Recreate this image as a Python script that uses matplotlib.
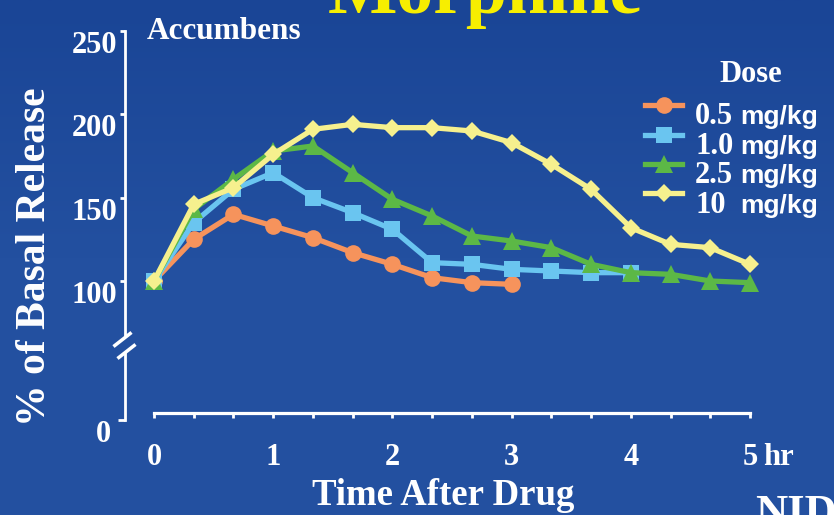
import numpy as np
import matplotlib.pyplot as plt
from matplotlib.lines import Line2D
from matplotlib.colors import LinearSegmentedColormap

# ------------------------------------------------------------------ data
hours = [0, 1/3, 2/3, 1, 4/3, 5/3, 2, 7/3, 8/3, 3, 10/3, 11/3, 4, 13/3, 14/3, 5]

dose_05 = [100, 125, 140, 133, 126, 117, 110, 102, 99, 98]
dose_10 = [100, 135, 155, 165, 150, 141, 131, 111, 110, 107, 106, 105, 105]
dose_25 = [100, 143, 161, 178, 181, 165, 149, 139, 127, 124, 120, 110, 105, 104, 100, 99]
dose_100 = [100, 146, 156, 176, 191, 194, 192, 192, 190, 183, 170, 155, 132, 122, 120, 110]

dose_names = ['0.5', '1.0', '2.5', '10']
colors = ['#f6935c', '#6ac5f0', '#5cb846', '#f6f08e']
markers = ['o', 's', '^', 'D']
msizes = [12, 12, 13, 9.5]

yticks = [100, 150, 200, 250]
xticks = [0, 1, 2, 3, 4, 5]

# ------------------------------------------------------------------ figure
W, H = 834, 515
fig = plt.figure(figsize=(W / 100, H / 100), dpi=100)

def fx(px):
    return px / W

def fy(py):
    return 1 - py / H

serif = 'Liberation Serif'
sans = 'Liberation Sans'

# blue slide background
bg = fig.add_axes([0, 0, 1, 1], zorder=-10)
grad = np.linspace(0, 1, 256).reshape(-1, 1)
bg.imshow(grad, aspect='auto', extent=[0, 1, 0, 1],
          cmap=LinearSegmentedColormap.from_list('bg', ['#1a4596', '#2350a0', '#2451a1']))
bg.axis('off')

# ------------------------------------------------------------------ main axes
px_per_hr = (750 - 154) / 5
px_per_unit = (281 - 31) / 150
ax = fig.add_axes([fx(125), fy(413), fx(790 - 125), (413 - 31) / H])
ax.patch.set_alpha(0)
ax.set_xlim((125 - 154) / px_per_hr, (790 - 154) / px_per_hr)
ax.set_ylim(250 - (413 - 31) / px_per_unit, 250)

series = [dose_05, dose_10, dose_25, dose_100]
for i, vals in enumerate(series):
    ax.plot(hours[:len(vals)], vals, color=colors[i], lw=3.8,
            marker=markers[i], ms=msizes[i], mfc=colors[i], mec=colors[i],
            mew=0, zorder=3 + i, clip_on=False)

for s in ['top', 'right']:
    ax.spines[s].set_visible(False)
ax.spines['left'].set_color('white')
ax.spines['left'].set_linewidth(2)
ax.spines['left'].set_bounds(250 - (335 - 31) / px_per_unit, 250)
ax.spines['bottom'].set_color('white')
ax.spines['bottom'].set_linewidth(2.3)
ax.spines['bottom'].set_bounds(0, 5)

ax.set_yticks(yticks)
ax.set_xticks(xticks)
ax.set_xticks(hours, minor=True)
ax.tick_params(axis='both', which='both', direction='out', length=3.6,
               width=2, color='white', labelcolor='white')
ax.tick_params(axis='x', which='major', pad=18)
ax.tick_params(axis='y', pad=2)
for lab in ax.get_xticklabels() + ax.get_yticklabels():
    lab.set_fontfamily(serif)
    lab.set_fontweight('bold')
    lab.set_fontsize(22)
for lab in ax.get_yticklabels():
    lab.set_va('top')

# unit after the last hour label
ax.text(5.11, -(443 - 413) / 382, 'hr', transform=ax.get_xaxis_transform(),
        ha='left', va='top', color='white', fontsize=22,
        fontweight='bold', family=serif)

# axis break marks
brk = dict(marker=[(-1, -0.78), (1, 0.78)], ms=13, mew=2.5,
           color='white', mec='white', ls='none', clip_on=False,
           transform=ax.transAxes)
ax.plot([-3 / 665], [(413 - 339) / 382], **brk)
ax.plot([0.5 / 665], [(413 - 350.5) / 382], **brk)

# lower stub of the broken axis carrying the zero
ax0 = fig.add_axes([fx(125), fy(420), 0.03, (420 - 353) / H])
ax0.patch.set_alpha(0)
ax0.set_ylim(0, (420 - 353) / px_per_unit)
ax0.set_xticks([])
ax0.set_yticks([0])
for s in ['top', 'right', 'bottom']:
    ax0.spines[s].set_visible(False)
ax0.spines['left'].set_color('white')
ax0.spines['left'].set_linewidth(2)
ax0.tick_params(axis='y', direction='out', length=5, width=2,
                color='white', labelcolor='white', pad=5)
for lab in ax0.get_yticklabels():
    lab.set_fontfamily(serif)
    lab.set_fontweight('bold')
    lab.set_fontsize(22)
    lab.set_va('top')

# ------------------------------------------------------------------ texts
fig.text(fx(485), fy(13), 'Morphine', ha='center', va='baseline',
         color='#f7ee00', fontsize=53, fontweight='bold', family=serif)
fig.text(fx(147), fy(39), 'Accumbens', ha='left', va='baseline',
         color='white', fontsize=22.5, fontweight='bold', family=serif)
fig.text(fx(35), fy(257), '% of Basal Release', rotation=90,
         ha='center', va='center', color='white', fontsize=30,
         fontweight='bold', family=serif)
fig.text(fx(443), fy(505), 'Time After Drug', ha='center', va='baseline',
         color='white', fontsize=26.5, fontweight='bold', family=serif)
fig.text(fx(755), fy(525), 'NIDA', ha='left', va='baseline',
         color='white', fontsize=32, fontweight='bold', family=serif)

# ------------------------------------------------------------------ legend
fig.text(fx(751), fy(82), 'Dose', ha='center', va='baseline',
         color='white', fontsize=22, fontweight='bold', family=serif)
row_base = [124, 154, 183, 213]
for i, name in enumerate(dose_names):
    yh = fy(row_base[i] - 19.5)
    fig.add_artist(Line2D([fx(645), fx(682)], [yh, yh], color=colors[i], lw=3.8))
    fig.add_artist(Line2D([fx(663.5)], [yh], color=colors[i], marker=markers[i],
                          ms=msizes[i], mew=0, ls='none'))
    fig.text(fx(695), fy(row_base[i]), name, ha='left', va='baseline',
             color='white', fontsize=22, fontweight='bold', family=serif)
    fig.text(fx(740), fy(row_base[i]), 'mg/kg', ha='left', va='baseline',
             color='white', fontsize=19, fontweight='bold', family=sans)

fig.savefig('out.png', dpi=100)
